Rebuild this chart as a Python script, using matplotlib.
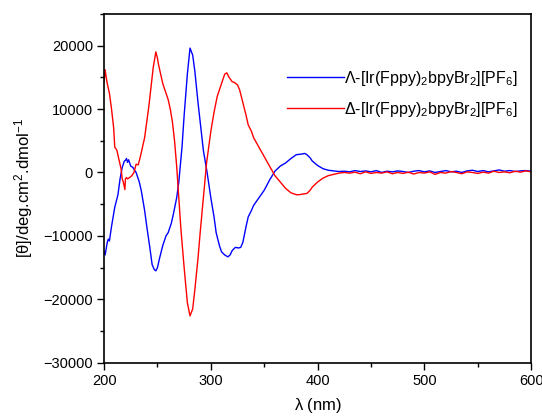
import numpy as np
import matplotlib
matplotlib.use("Agg")
from matplotlib import pyplot as plt
from matplotlib.ticker import MultipleLocator

plt.rcParams['font.family'] = ['Liberation Sans', 'DejaVu Sans']
plt.rcParams['mathtext.fontset'] = 'custom'
plt.rcParams['mathtext.rm'] = 'Liberation Sans'
plt.rcParams['mathtext.it'] = 'Liberation Sans'

# Lambda isomer (blue)
wl_lambda = [200, 201, 202, 203, 204, 205, 207, 210, 213, 215, 217, 219, 220, 221, 222, 223,
             225, 227, 228, 230, 233, 235, 238, 240, 243, 245, 247, 248.5, 250, 252, 255,
             258, 260, 263, 265, 268, 270, 273, 275, 278, 280.5, 283, 285, 288, 290, 293,
             296.5, 300, 303, 305, 308, 310, 313, 316, 318, 320, 323, 326, 328, 330, 333,
             335, 338, 340, 345, 350, 355, 360, 365, 370, 375, 380, 385, 388, 390, 393,
             395, 400, 405, 410, 415, 420, 425, 430, 435, 440, 445, 450, 455, 460, 465,
             470, 475, 480, 485, 490, 495, 500, 505, 510, 515, 520, 525, 530, 535, 540,
             545, 550, 555, 560, 565, 570, 575, 580, 585, 590, 595, 600]
cd_lambda = [-12500, -13000, -12000, -11000, -10500, -10800, -8500, -5500, -3500, -1000, 800,
             1800, 1900, 2200, 1600, 2000, 1000, 800, 500, 0, -1500, -3000, -6000, -8500,
             -12000, -14500, -15300, -15500, -15000, -13500, -11500, -10000, -9500, -8000,
             -6500, -4000, -1500, 4000, 9000, 15500, 19600, 18500, 16000, 11000, 8000, 3500,
             0, -4000, -7000, -9500, -11500, -12500, -13000, -13300, -13000, -12300, -11800,
             -11900, -11800, -11000, -8500, -7000, -6000, -5200, -4000, -2800, -1200, 200,
             1000, 1500, 2200, 2800, 2900, 3000, 2800, 2300, 1800, 1100, 600, 350, 250, 150,
             200, 100, 300, 150, 250, 100, 300, 0, 200, 100, 250, 150, 0, 200, 300, 100, 250,
             0, 150, 300, 100, 200, 0, 250, 350, 150, 300, 100, 250, 400, 200, 300, 150, 250,
             300, 200]

# Delta isomer (red)
wl_delta = [200, 201, 202, 203, 205, 207, 209, 210, 212, 214, 216, 217, 218, 219.5, 220, 221,
            222, 224, 226, 228, 230, 232, 234, 236, 238, 240, 242, 244, 246, 248.5, 250, 251,
            253, 255, 257, 260, 262, 264, 266, 268, 270, 272, 275, 278, 280.5, 283, 285, 288,
            290, 293, 296, 300, 303, 306, 310, 313, 315, 317, 320, 322, 325, 327, 330, 333,
            335, 338, 340, 345, 350, 355, 360, 365, 370, 375, 380, 383, 386, 390, 393, 395,
            400, 405, 410, 415, 420, 425, 430, 435, 440, 445, 450, 455, 460, 465, 470, 475,
            480, 485, 490, 495, 500, 505, 510, 515, 520, 525, 530, 535, 540, 545, 550, 555,
            560, 565, 570, 575, 580, 585, 590, 595, 600]
cd_delta = [14300, 16200, 15000, 14000, 12500, 10000, 7000, 4000, 3500, 2000, 500, -1000,
            -1500, -2700, -1000, -800, -1000, -800, -500, 0, 1300, 1200, 2500, 4000, 5500,
            8000, 10500, 13500, 16500, 19000, 18000, 17000, 15500, 14000, 13000, 11500,
            10000, 8000, 5000, 1000, -4000, -9000, -15000, -20500, -22600, -21500, -18500,
            -13500, -9500, -4000, 1500, 6500, 9500, 12000, 14000, 15500, 15700, 15000, 14300,
            14200, 13800, 13000, 11000, 9000, 7500, 6500, 5500, 4000, 2500, 1000, -500,
            -1500, -2500, -3200, -3500, -3500, -3400, -3300, -2800, -2300, -1500, -900, -500,
            -300, -100, 0, -100, 50, -200, 100, -150, 0, -100, 100, -200, 0, -150, 50, -250,
            0, -100, 100, -300, 0, -100, 150, 0, -200, 100, 0, -150, 50, -100, 200, 0, 100,
            -50, 200, 50, 250, 100]

fig, ax = plt.subplots(figsize=(5.42, 4.19), dpi=100)
fig.subplots_adjust(left=0.192, right=0.98, top=0.967, bottom=0.134)

ax.plot(wl_lambda, cd_lambda, color='#0000ff', lw=1.0,
        label=r'$\Lambda$-[Ir(Fppy)$_2$bpyBr$_2$][PF$_6$]')
ax.plot(wl_delta, cd_delta, color='#ff0000', lw=1.0,
        label=r'$\Delta$-[Ir(Fppy)$_2$bpyBr$_2$][PF$_6$]')

ax.set_xlim(200, 600)
ax.set_ylim(-30000, 25000)
ax.set_xticks([200, 300, 400, 500, 600])
ax.set_yticks([-30000, -20000, -10000, 0, 10000, 20000])
ax.xaxis.set_minor_locator(MultipleLocator(50))
ax.yaxis.set_minor_locator(MultipleLocator(5000))
ax.tick_params(which='major', direction='out', length=5, width=1, labelsize=10.5, pad=3)
ax.tick_params(which='minor', direction='out', length=3, width=1)
ax.tick_params(top=False, right=False, which='both')
for s in ax.spines.values():
    s.set_linewidth(1.2)

ax.set_xlabel(r'$\lambda$ (nm)', fontsize=12, labelpad=6)
ax.set_ylabel(r'[$\theta$]/deg.cm$^2$.dmol$^{-1}$', fontsize=12, labelpad=6)

ax.legend(loc='upper right', bbox_to_anchor=(0.995, 0.875), frameon=False, fontsize=11.5,
          handlelength=3.6, handletextpad=0.0, labelspacing=0.75, borderaxespad=0.3)

plt.savefig('out.png', dpi=100)
